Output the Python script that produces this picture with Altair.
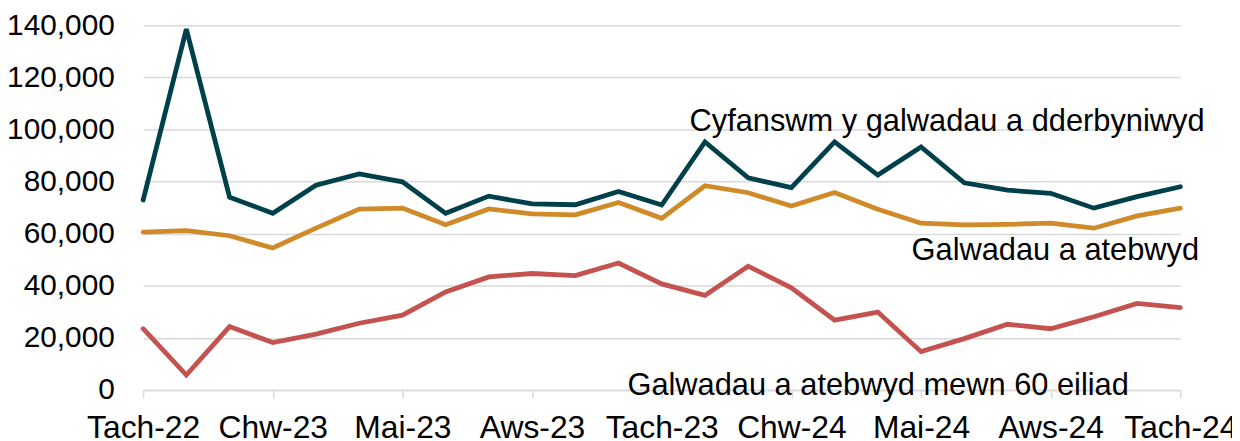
import altair as alt
import pandas as pd

months = ["Tach-22", "Rhag-22", "Ion-23", "Chw-23", "Maw-23", "Ebr-23", "Mai-23",
          "Meh-23", "Gor-23", "Aws-23", "Medi-23", "Hyd-23", "Tach-23", "Rhag-23",
          "Ion-24", "Chw-24", "Maw-24", "Ebr-24", "Mai-24", "Meh-24", "Gor-24",
          "Aws-24", "Medi-24", "Hyd-24", "Tach-24"]
tick_months = months[::3]

total = [72900, 138500, 74000, 67800, 78600, 82900, 79900, 67800, 74400, 71400,
         71100, 76200, 71000, 95200, 81400, 77700, 95200, 82500, 93300, 79500,
         76700, 75500, 69800, 74200, 78000]
answered = [60600, 61200, 59200, 54500, 62100, 69400, 69800, 63400, 69500, 67600,
            67200, 72000, 65900, 78400, 75700, 70600, 75800, 69400, 64000, 63400,
            63600, 64000, 62100, 66800, 69800]
within60 = [23500, 5700, 24300, 18200, 21400, 25600, 28700, 37600, 43400, 44700,
            43900, 48700, 40700, 36300, 47500, 39200, 26800, 29900, 14700, 19700,
            25200, 23500, 28100, 33200, 31600]

series_names = ["Cyfanswm y galwadau a dderbyniwyd", "Galwadau a atebwyd",
                "Galwadau a atebwyd mewn 60 eiliad"]
series_colors = ["#00404a", "#d08a2a", "#c4524f"]

# annotation labels: text, anchor month, value, offset
label_texts = series_names
label_months = ["Tach-23", "Ebr-24", "Hyd-23"]
label_values = [102700, 53500, 1640]
label_dx = [28, 34, 9]

rows = []
for name, vals in zip(series_names, [total, answered, within60]):
    for m, v in zip(months, vals):
        rows.append({"month": m, "value": v, "series": name})
df = pd.DataFrame(rows)

FONT = "Arial, Liberation Sans, sans-serif"

x_enc = alt.X("month:O", sort=months,
              scale=alt.Scale(type="point", padding=0),
              axis=alt.Axis(values=tick_months, labelAngle=0, title=None,
                            labelFontSize=32, labelFont=FONT, labelColor="#000000",
                            domainColor="#d9d9d9", domainWidth=1.5,
                            tickColor="#d9d9d9", tickWidth=1.5, tickSize=8,
                            labelPadding=15, grid=False, labelOverlap=False,
                            labelBound=False, labelFlush=False))

y_enc = alt.Y("value:Q", scale=alt.Scale(domain=[0, 140000], nice=False),
              axis=alt.Axis(values=list(range(0, 140001, 20000)), format=",.0f",
                            title=None, labelFontSize=30, labelFont=FONT,
                            labelColor="#000000", domain=False, ticks=False,
                            labelPadding=29, gridColor="#d9d9d9", gridWidth=1.5))

lines = alt.Chart(df).mark_line(strokeWidth=4.8, strokeCap="round", strokeJoin="miter").encode(
    x=x_enc,
    y=y_enc,
    color=alt.Color("series:N", sort=series_names,
                    scale=alt.Scale(domain=series_names, range=series_colors),
                    legend=None),
    detail="series:N",
)

layers = [lines]
for t, m, v, dx in zip(label_texts, label_months, label_values, label_dx):
    ldf = pd.DataFrame({"month": [m], "value": [v], "text": [t]})
    layers.append(
        alt.Chart(ldf).mark_text(align="left", baseline="middle", dx=dx,
                                 fontSize=31, font=FONT, color="#000000").encode(
            x=alt.X("month:O", sort=months), y="value:Q", text="text:N")
    )

chart = alt.layer(*layers).properties(
    width=1044, height=367,
    background="#ffffff",
    autosize=alt.AutoSizeParams(type="none"),
    padding={"left": 136, "top": 16, "right": 52, "bottom": 50},
).configure_view(stroke=None)

chart.save("out.html", embed_options={"renderer": "svg", "actions": False})
